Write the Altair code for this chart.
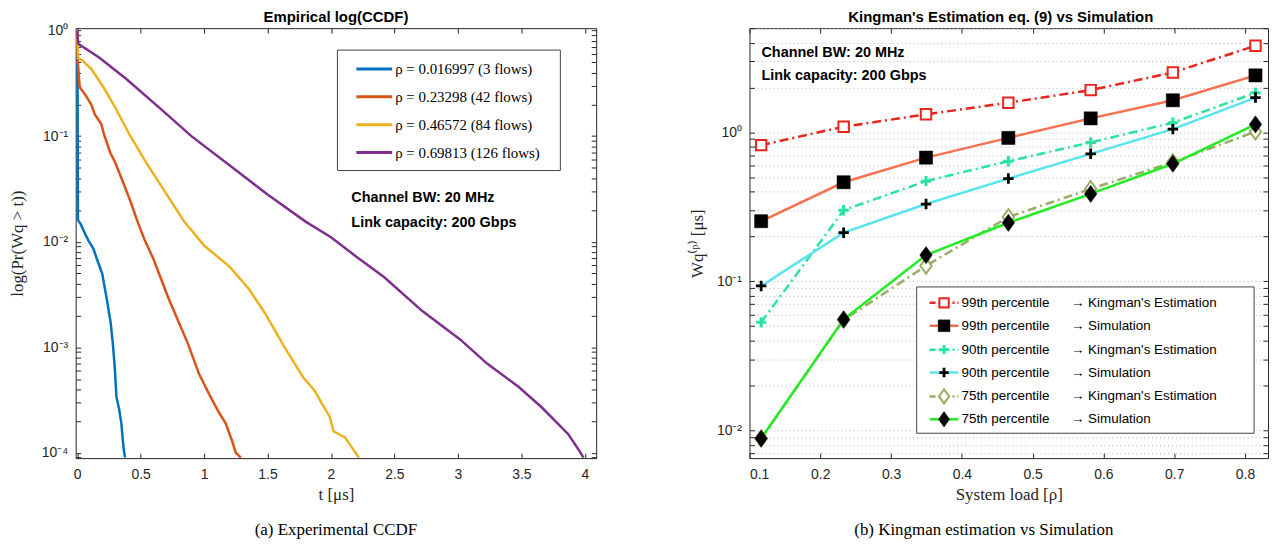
import altair as alt
import pandas as pd

# ---------------- Panel (a): empirical CCDF ----------------
a_labels = ["ρ = 0.016997 (3 flows)", "ρ = 0.23298 (42 flows)",
            "ρ = 0.46572 (84 flows)", "ρ = 0.69813 (126 flows)"]

blue_t = [0, 0.003, 0.006, 0.03, 0.06, 0.09, 0.127, 0.16, 0.197, 0.23, 0.264,
          0.28, 0.294, 0.309, 0.33, 0.348, 0.36, 0.37, 0.378]
blue_p = [1, 0.3, 0.016, 0.0145, 0.012, 0.0102, 0.0086, 0.0066, 0.005, 0.003,
          0.0017, 0.0011, 0.0007, 0.00034, 0.00026, 0.00019, 0.00013, 0.0001, 0.00009]

red_t = [0, 0.005, 0.02, 0.06, 0.11, 0.14, 0.19, 0.21, 0.26, 0.3, 0.36, 0.42,
         0.48, 0.53, 0.6, 0.72, 0.87, 0.96, 1.05, 1.11, 1.17, 1.22, 1.25, 1.29]
red_p = [1, 0.5, 0.29, 0.25, 0.2, 0.16, 0.13, 0.105, 0.07, 0.056, 0.037, 0.024,
         0.015, 0.0105, 0.0069, 0.0029, 0.0011, 0.00056, 0.00034, 0.00025,
         0.00019, 0.00013, 0.0001, 0.00009]

yellow_t = [0, 0.004, 0.008, 0.04, 0.11, 0.2, 0.29, 0.415, 0.54, 0.69, 0.84,
            1.0, 1.2, 1.35, 1.48, 1.63, 1.78, 1.87, 1.93, 1.99, 2.02, 2.11,
            2.17, 2.22]
yellow_p = [1, 0.7, 0.55, 0.52, 0.435, 0.3, 0.196, 0.102, 0.057, 0.030, 0.0157,
            0.0092, 0.0058, 0.0036, 0.0021, 0.00102, 0.00052, 0.00039, 0.00029,
            0.00022, 0.00016, 0.00014, 0.00011, 0.00009]

purple_t = [0, 0.008, 0.17, 0.385, 0.66, 0.9, 1.2, 1.5, 1.8, 2.0, 2.2, 2.42,
            2.72, 3.02, 3.23, 3.48, 3.66, 3.87, 3.96, 3.99]
purple_p = [1, 0.75, 0.56, 0.35, 0.18, 0.10, 0.053, 0.028, 0.0155, 0.011,
            0.0072, 0.0046, 0.0022, 0.00118, 0.0007, 0.00042, 0.00027,
            0.00015, 0.000103, 0.00009]

a_t = [blue_t, red_t, yellow_t, purple_t]
a_p = [blue_p, red_p, yellow_p, purple_p]

x_ticks_a = [0, 0.5, 1, 1.5, 2, 2.5, 3, 3.5, 4]

# ---------------- Panel (b): Kingman vs simulation ----------------
load = [0.1165, 0.2330, 0.3494, 0.4657, 0.5820, 0.6981, 0.8148]
k99 = [0.82, 1.09, 1.32, 1.58, 1.92, 2.52, 3.81]
s99 = [0.253, 0.462, 0.676, 0.917, 1.24, 1.64, 2.41]
k90 = [0.053, 0.30, 0.47, 0.64, 0.855, 1.16, 1.84]
s90 = [0.093, 0.212, 0.33, 0.489, 0.717, 1.05, 1.71]
k75 = [0.0088, 0.055, 0.127, 0.27, 0.417, 0.63, 1.01]
s75 = [0.0088, 0.0555, 0.15, 0.247, 0.386, 0.615, 1.13]

b_values = [k99, s99, k90, s90, k75, s75]
b_names = ["99th percentile", "99th percentile", "90th percentile",
           "90th percentile", "75th percentile", "75th percentile"]
b_kinds = ["→ Kingman's Estimation", "→ Simulation", "→ Kingman's Estimation",
           "→ Simulation", "→ Kingman's Estimation", "→ Simulation"]
x_ticks_b = [0.1, 0.2, 0.3, 0.4, 0.5, 0.6, 0.7, 0.8]

ann_text = ["Channel BW: 20 MHz", "Link capacity: 200 Gbps"]
titles = ["Empirical log(CCDF)", "Kingman's Estimation eq. (9) vs Simulation"]
captions = ["(a) Experimental CCDF", "(b) Kingman estimation vs Simulation"]

# ---------------- styles ----------------
a_colors = ["#0072BD", "#D95319", "#EDB120", "#7E2F8E"]
DD = [9, 4, 2, 4]
b_styles = [
    dict(line="#E8241B", dash=DD, shape="square", size=110, fill="white", stroke="#E8241B", sw=2),
    dict(line="#F7704F", dash=None, shape="square", size=175, fill="black", stroke="black", sw=0.5),
    dict(line="#2BE3A1", dash=DD, shape="M-1,0L1,0M0,-1L0,1", size=110, fill=None, stroke="#2BE3A1", sw=3),
    dict(line="#57E4EE", dash=None, shape="M-1,0L1,0M0,-1L0,1", size=110, fill=None, stroke="black", sw=2.8),
    dict(line="#98AE63", dash=DD, shape="M0,-1L0.72,0L0,1L-0.72,0Z", size=250, fill="white", stroke="#98AE63", sw=2),
    dict(line="#22EC22", dash=None, shape="M0,-1L0.72,0L0,1L-0.72,0Z", size=300, fill="black", stroke="black", sw=0.5),
]

W1, H1 = 523, 432
W2, H2 = 521, 432
FR = "#262626"
TK = 5  # tick length (drawn inward)
TITLE_Y = -11
CAP_Y = 72


def log_ticks(lo, hi):
    vals = []
    for e in range(-6, 2):
        for k in range(1, 10):
            v = float(f"{k}e{e}")
            if lo <= v <= hi:
                vals.append(v)
    return vals


sup = {0: "⁰", -1: "⁻¹", -2: "⁻²", -3: "⁻³", -4: "⁻⁴"}


def decade_expr(exps):
    parts = []
    for e in exps:
        parts.append(f"datum.value == {float(f'1e{e}')} ? '10{sup[e]}' : ")
    return "".join(parts) + "''"


def mirror_axis(orient, values):
    return alt.Axis(orient=orient, values=values, labels=False, title=None, grid=False,
                    offset=-TK, tickSize=TK, domain=False)


def title_mark(txt, xpos):
    return alt.Chart(pd.DataFrame({"txt": [txt]})).mark_text(
        align="center", baseline="middle", font="Liberation Sans", fontWeight="bold",
        fontSize=15, color="black").encode(x=alt.value(xpos), y=alt.value(TITLE_Y), text="txt:N")


# ---------------- panel (a) chart ----------------
xa_scale = alt.Scale(domain=[-0.012, 4.09], nice=False, zero=False)
ya_dom = [8.9e-5, 1.054]
ya_scale = alt.Scale(type="log", domain=ya_dom, nice=False)
ya_vals = log_ticks(*ya_dom)
xa = alt.X("t:Q", scale=xa_scale,
           axis=alt.Axis(values=x_ticks_a, format="~g", title="t [μs]", offset=-TK,
                         titlePadding=6, labelPadding=4 + TK))
ya = alt.Y("p:Q", scale=ya_scale,
           axis=alt.Axis(values=ya_vals, labelExpr=decade_expr([0, -1, -2, -3, -4]),
                         labelOverlap=False, title="log(Pr(Wq > t))", offset=-TK,
                         labelPadding=3 + TK, minExtent=40 + TK, maxExtent=40 + TK,
                         titlePadding=9))

layers_a = []
for lab, ts, ps, col in zip(a_labels, a_t, a_p, a_colors):
    df = pd.DataFrame({"t": ts, "p": ps, "i": range(len(ts)), "s": lab})
    layers_a.append(alt.Chart(df).mark_line(color=col, strokeWidth=2.5, clip=True)
                    .encode(x=xa, y=ya, order=alt.Order("i:Q")))

# legend (a)
leg_a = pd.DataFrame({"label": a_labels, "ly": [41, 69, 97, 125], "c": a_colors})
box_a = alt.Chart(pd.DataFrame({"k": [0]})).mark_rect(fill="white", stroke="#444444", strokeWidth=1).encode(
    x=alt.value(263), x2=alt.value(487), y=alt.value(22), y2=alt.value(143))
leg_a_lines = alt.Chart(leg_a).mark_rule(strokeWidth=3).encode(
    x=alt.value(282), x2=alt.value(318),
    y=alt.Y("ly:Q", scale=None, axis=None), color=alt.Color("c:N", scale=None, legend=None))
leg_a_text = alt.Chart(leg_a).mark_text(align="left", baseline="middle", font="Liberation Serif",
                                        fontSize=15, color="black").encode(
    x=alt.value(321), y=alt.Y("ly:Q", scale=None, axis=None), text="label:N")
ann_a = alt.Chart(pd.DataFrame({"txt": ann_text, "ly": [171, 196]})).mark_text(
    align="left", baseline="middle", font="Liberation Sans", fontWeight="bold", fontSize=14.5,
    color="black").encode(x=alt.value(277), y=alt.Y("ly:Q", scale=None, axis=None), text="txt:N")
cap_a = alt.Chart(pd.DataFrame({"txt": [captions[0]]})).mark_text(
    align="center", baseline="middle", font="Liberation Serif", fontSize=17, color="black").encode(
    x=alt.value(W1 / 2), y=alt.value(H1 + CAP_Y), text="txt:N")

main_a = alt.layer(*layers_a, box_a, leg_a_lines, leg_a_text, ann_a, cap_a, title_mark(titles[0], W1 / 2))
mirror_a = alt.Chart(pd.DataFrame({"t": purple_t, "p": purple_p})).mark_point(opacity=0).encode(
    x=alt.X("t:Q", scale=xa_scale, axis=mirror_axis("top", x_ticks_a)),
    y=alt.Y("p:Q", scale=ya_scale, axis=mirror_axis("right", ya_vals)))
left = alt.layer(main_a, mirror_a).resolve_axis(x="independent", y="independent").properties(
    width=W1, height=H1)

# ---------------- panel (b) chart ----------------
xb_scale = alt.Scale(domain=[0.1, 0.8325], nice=False, zero=False)
yb_dom = [0.0065, 5.0]
yb_scale = alt.Scale(type="log", domain=yb_dom, nice=False)
yb_vals = log_ticks(*yb_dom)
xb = alt.X("x:Q", scale=xb_scale,
           axis=alt.Axis(values=x_ticks_b, format=".1f", title="System load [ρ]", offset=-TK,
                         titlePadding=6, labelPadding=4 + TK))
yb = alt.Y("v:Q", scale=yb_scale,
           axis=alt.Axis(values=yb_vals, labelExpr=decade_expr([0, -1, -2]),
                         labelOverlap=False, title="Wq⁽ᵖ⁾ [μs]", grid=True,
                         gridDash=[1, 3], gridColor="#b5b5b5", gridWidth=1, offset=-TK,
                         labelPadding=3 + TK, minExtent=36 + TK, maxExtent=36 + TK,
                         titlePadding=7))

layers_b = []
for vals, st in zip(b_values, b_styles):
    df = pd.DataFrame({"x": load, "v": vals})
    lk = dict(color=st["line"], strokeWidth=2.5, clip=True)
    if st["dash"]:
        lk["strokeDash"] = st["dash"]
    layers_b.append(alt.Chart(df).mark_line(**lk).encode(x=xb, y=yb))
    pk = dict(shape=st["shape"], size=st["size"], stroke=st["stroke"], strokeWidth=st["sw"],
              opacity=1)
    if st["fill"] is None:
        pk["filled"] = False
    else:
        pk["filled"] = True
        pk["fill"] = st["fill"]
        pk["fillOpacity"] = 1
    layers_b.append(alt.Chart(df).mark_point(**pk).encode(x=xb, y=yb))

# legend (b)
leg_rows = [276, 299, 323, 346, 370, 393]
box_b = alt.Chart(pd.DataFrame({"k": [0]})).mark_rect(fill="white", stroke="#444444", strokeWidth=1).encode(
    x=alt.value(168), x2=alt.value(507), y=alt.value(260), y2=alt.value(407))
leg_b_layers = []
for ly, st in zip(leg_rows, b_styles):
    d1 = pd.DataFrame({"ly": [ly]})
    rk = dict(color=st["line"], strokeWidth=2.5)
    if st["dash"]:
        rk["strokeDash"] = [6, 3, 2, 3]
    leg_b_layers.append(alt.Chart(d1).mark_rule(**rk).encode(
        x=alt.value(181), x2=alt.value(210), y=alt.Y("ly:Q", scale=None, axis=None)))
    pk = dict(shape=st["shape"], size=st["size"] * 0.8, stroke=st["stroke"], strokeWidth=st["sw"],
              opacity=1)
    if st["fill"] is None:
        pk["filled"] = False
    else:
        pk["filled"] = True
        pk["fill"] = st["fill"]
        pk["fillOpacity"] = 1
    leg_b_layers.append(alt.Chart(d1).mark_point(**pk).encode(
        x=alt.value(195.5), y=alt.Y("ly:Q", scale=None, axis=None)))
leg_b_df = pd.DataFrame({"name": b_names, "kind": b_kinds, "ly": leg_rows})
leg_b_t1 = alt.Chart(leg_b_df).mark_text(align="left", baseline="middle", font="Liberation Sans",
                                         fontSize=13.5, color="black").encode(
    x=alt.value(213), y=alt.Y("ly:Q", scale=None, axis=None), text="name:N")
leg_b_t2 = alt.Chart(leg_b_df).mark_text(align="left", baseline="middle", font="Liberation Sans",
                                         fontSize=13.5, color="black").encode(
    x=alt.value(323), y=alt.Y("ly:Q", scale=None, axis=None), text="kind:N")
ann_b = alt.Chart(pd.DataFrame({"txt": ann_text, "ly": [25, 48]})).mark_text(
    align="left", baseline="middle", font="Liberation Sans", fontWeight="bold", fontSize=14.5,
    color="black").encode(x=alt.value(12), y=alt.Y("ly:Q", scale=None, axis=None), text="txt:N")
cap_b = alt.Chart(pd.DataFrame({"txt": [captions[1]]})).mark_text(
    align="center", baseline="middle", font="Liberation Serif", fontSize=17, color="black").encode(
    x=alt.value(W2 / 2 - 25), y=alt.value(H2 + CAP_Y), text="txt:N")

main_b = alt.layer(*layers_b, box_b, *leg_b_layers, leg_b_t1, leg_b_t2, ann_b, cap_b,
                   title_mark(titles[1], W2 / 2 - 8))
mirror_b = alt.Chart(pd.DataFrame({"x": load, "v": k99})).mark_point(opacity=0).encode(
    x=alt.X("x:Q", scale=xb_scale, axis=mirror_axis("top", x_ticks_b)),
    y=alt.Y("v:Q", scale=yb_scale, axis=mirror_axis("right", yb_vals)))
right = alt.layer(main_b, mirror_b).resolve_axis(x="independent", y="independent").properties(
    width=W2, height=H2)

chart = alt.hconcat(left, right, spacing=91).properties(
    padding={"left": 0, "top": 0, "right": 0, "bottom": 0}, background="white"
).configure_view(stroke=FR, strokeWidth=1).configure_axis(
    labelFont="Liberation Sans", labelFontSize=14, labelColor=FR, tickColor=FR, tickSize=TK,
    domain=False, titleFont="Liberation Serif", titleFontSize=17, titleFontWeight="normal",
    titleColor=FR, grid=False
)

chart.save("out.html", embed_options={"renderer": "svg", "actions": False})
